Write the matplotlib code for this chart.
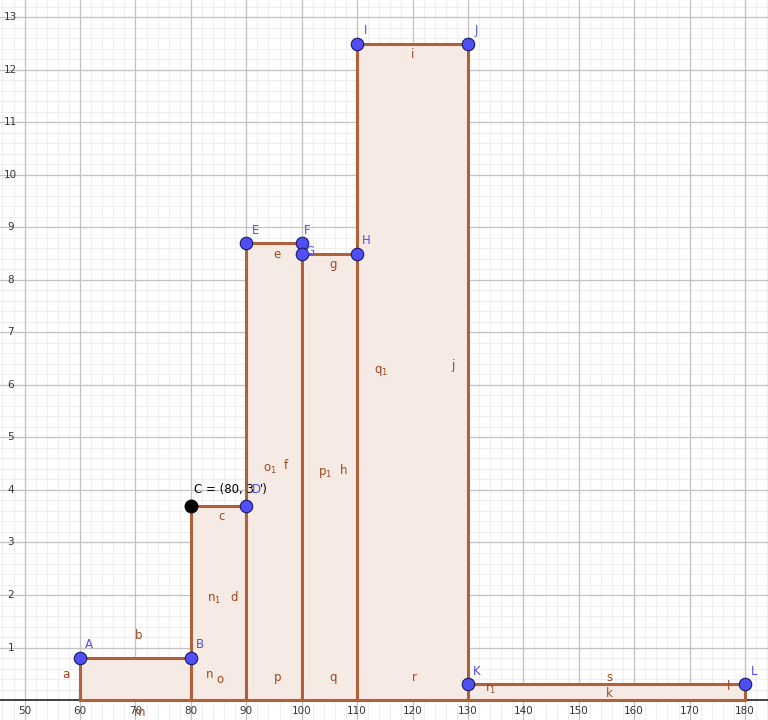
import numpy as np
import matplotlib.pyplot as plt

# histogram classes
left = [60, 80, 90, 100, 110, 130]
right = [80, 90, 100, 110, 130, 180]
heights = [0.8, 3.7, 8.7, 8.5, 12.5, 0.3]

# named points
pt_names = ['A', 'B', 'D', 'E', 'F', 'G', 'H', 'I', 'J', 'K', 'L']
pt_x = [60, 80, 90, 90, 100, 100, 110, 110, 130, 130, 180]
pt_y = [0.8, 0.8, 3.7, 8.7, 8.7, 8.5, 8.5, 12.5, 12.5, 0.3, 0.3]

# segment labels (name, x, y)
seg_labels = [('a', 57.5, 0.48), ('b', 70.5, 1.22), ('m', 70.8, -0.24),
              ('n', 83.4, 0.48), ('o', 85.3, 0.40), ('p', 95.6, 0.42),
              ('q', 105.7, 0.42), ('r', 120.3, 0.42), ('$\\mathregular{r_1}$', 134.2, 0.22),
              ('s', 155.5, 0.42), ('k', 155.5, 0.12), ('l', 177.0, 0.25),
              ('c', 85.5, 3.49), ('$\\mathregular{n_1}$', 84.2, 1.92), ('d', 87.8, 1.95),
              ('$\\mathregular{o_1}$', 94.2, 4.40), ('f', 97.2, 4.47),
              ('$\\mathregular{p_1}$', 104.3, 4.32), ('h', 107.5, 4.37),
              ('e', 95.5, 8.48), ('g', 105.7, 8.29), ('$\\mathregular{q_1}$', 114.3, 6.26),
              ('j', 127.2, 6.37), ('i', 120.0, 12.3)]

brown = '#B0603A'
fill = '#F5EAE4'
blue = '#4F4FF5'
txt = '#A0451C'

fig = plt.figure(figsize=(7.68, 7.2), dpi=100)
ax = fig.add_axes([0, 0, 1, 1])
x0, x1 = 45.56, 184.15
y0, y1 = -0.38, 13.33
ax.set_xlim(x0, x1)
ax.set_ylim(y0, y1)
ax.axis('off')

# grid
for v in np.arange(46, 185, 2):
    ax.axvline(v, color='#EEEEEE', lw=0.8, zorder=0)
for v in np.arange(0, 13.4, 0.2):
    ax.axhline(v, color='#EEEEEE', lw=0.8, zorder=0)
for v in range(50, 190, 10):
    ax.axvline(v, color='#C2C2C2', lw=0.9, zorder=0)
for v in range(1, 14):
    ax.axhline(v, color='#C2C2C2', lw=0.9, zorder=0)
ax.axhline(0, color='#222222', lw=1.2, zorder=1)

# tick labels
for v in range(50, 190, 10):
    ax.text(v, -0.21, str(v), ha='center', va='center', fontsize=7.5, color='#333333')
for v in range(1, 14):
    ax.text(47.5, v, str(v), ha='center', va='center', fontsize=7.5, color='#333333')

# bars
widths = [r - l for l, r in zip(left, right)]
ax.bar(left, heights, width=widths, align='edge', color=fill, edgecolor=brown,
       linewidth=2.2, zorder=2)

# points
ax.plot(pt_x, pt_y, 'o', ms=9, mfc=blue, mec='#1A1A66', mew=0.8, zorder=4)
ax.plot([80], [3.7], 'o', ms=9, mfc='black', mec='black', zorder=4)
offs = {'F': (1, 0.25), 'G': (1.4, 0.05), 'D': (1.8, 0.3)}
for n, x, y in zip(pt_names, pt_x, pt_y):
    dx, dy = offs.get(n, (1.6, 0.25))
    ax.text(x + dx, y + dy, n, color=blue, fontsize=8.5, ha='center', va='center', zorder=5)

ax.text(80.5, 4.0, 'C = (80, 3', color='black', fontsize=8.5, ha='left', va='center', zorder=5)
ax.text(92.5, 4.0, "')", color='black', fontsize=8.5, ha='left', va='center', zorder=5)

for s, x, y in seg_labels:
    ax.text(x, y, s, color=txt, fontsize=8.5, ha='center', va='center', zorder=5)

fig.savefig('out.png', dpi=100)
